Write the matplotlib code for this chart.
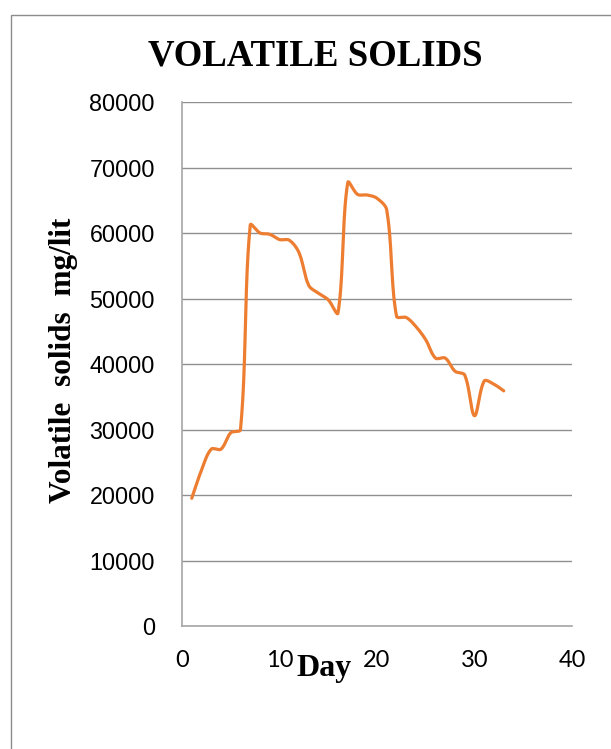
import numpy as np
import matplotlib
matplotlib.use("Agg")
import matplotlib.pyplot as plt
from matplotlib.patches import Rectangle

days = [1, 2, 3, 4, 5, 6, 7, 8, 9, 10, 11, 12, 13, 14, 15, 16, 17,
        18, 19, 20, 21, 22, 23, 24, 25, 26, 27, 28, 29, 30, 31, 32, 33]
volatile_solids = [19500, 23800, 27000, 27000, 29500, 30000, 61200, 60000, 59800, 59000,
                   58900, 57000, 52000, 50800, 49800, 47800, 67700,
                   65900, 65800, 65300, 63500, 47300, 47100, 45700, 43700, 40900,
                   40900, 38900, 38300, 32100, 37400, 36900, 35900]
x_ticks = [0, 10, 20, 30, 40]
y_ticks = [0, 10000, 20000, 30000, 40000, 50000, 60000, 70000, 80000]

W, H = 611, 749
AX_L, AX_R, AX_T, AX_B = 182, 572, 102, 626


def smooth(xs, ys, n=40):
    # Bezier smoothing in pixel space with chord-length scaled tangents
    sxp = (AX_R - AX_L) / 40.0
    syp = (AX_B - AX_T) / 80000.0
    P = np.column_stack([np.asarray(xs, float) * sxp, np.asarray(ys, float) * syp])
    m = len(P)
    out = []
    for i in range(m - 1):
        p0 = P[i - 1] if i > 0 else P[i]
        p1 = P[i]
        p2 = P[i + 1]
        p3 = P[i + 2] if i + 2 < m else P[i + 1]
        d01 = np.linalg.norm(p1 - p0)
        d12 = np.linalg.norm(p2 - p1)
        d23 = np.linalg.norm(p3 - p2)
        f1 = d12 / (d01 + d12) / 3.0 if d01 + d12 > 0 else 0
        f2 = d12 / (d12 + d23) / 3.0 if d12 + d23 > 0 else 0
        c1 = p1 + (p2 - p0) * f1
        c2 = p2 - (p3 - p1) * f2
        t = np.linspace(0, 1, n, endpoint=(i == m - 2))[:, None]
        seg = ((1 - t) ** 3) * p1 + 3 * ((1 - t) ** 2) * t * c1 + 3 * (1 - t) * t ** 2 * c2 + t ** 3 * p2
        out.append(seg)
    out = np.vstack(out)
    return out[:, 0] / sxp, out[:, 1] / syp


fig = plt.figure(figsize=(W / 100, H / 100), dpi=100)
fig.patch.set_facecolor("white")

# outer chart frame
fig.patches.append(Rectangle((11 / W, -0.05), 1.2, 1 - 15 / H + 0.05, transform=fig.transFigure,
                             fill=False, edgecolor="#8c8c8c", linewidth=1.0))

ax = fig.add_axes([AX_L / W, 1 - AX_B / H, (AX_R - AX_L) / W, (AX_B - AX_T) / H])
sx, sy = smooth(days, volatile_solids)
ax.plot(sx, sy, color="#ED7D31", linewidth=2.3, solid_capstyle="round", zorder=3)

ax.set_xlim(0, 40)
ax.set_ylim(0, 80000)
ax.set_xticks(x_ticks)
ax.set_yticks(y_ticks)
ax.set_xticklabels([str(v) for v in x_ticks], fontfamily="Lato", fontsize=17)
ax.set_yticklabels([str(v) for v in y_ticks], fontfamily="Liberation Sans", fontsize=16.8)
ax.tick_params(axis="both", length=0, colors="black")
ax.tick_params(axis="x", pad=17.5)
ax.tick_params(axis="y", pad=19.5)
ax.grid(axis="y", color="#8f8f8f", linewidth=1.0)
ax.set_axisbelow(True)
for s in ["top", "right"]:
    ax.spines[s].set_visible(False)
ax.spines["left"].set_color("#a6a6a6")
ax.spines["bottom"].set_color("#a6a6a6")
ax.spines["left"].set_linewidth(1.2)
ax.spines["bottom"].set_linewidth(1.2)

fig.text(315 / W, 1 - 65 / H, "VOLATILE SOLIDS", fontfamily="Liberation Serif", fontweight="bold",
         fontsize=26.5, ha="center", va="baseline")
fig.text(64 / W, 1 - 360 / H, "Volatile  solids  mg/lit", fontfamily="Liberation Serif",
         fontweight="bold", fontsize=22.5, rotation=90, ha="center", va="center")
fig.text(324.5 / W, 1 - 676 / H, "Day", fontfamily="Liberation Serif", fontweight="bold",
         fontsize=23, ha="center", va="baseline")

fig.savefig("out.png", dpi=100)
